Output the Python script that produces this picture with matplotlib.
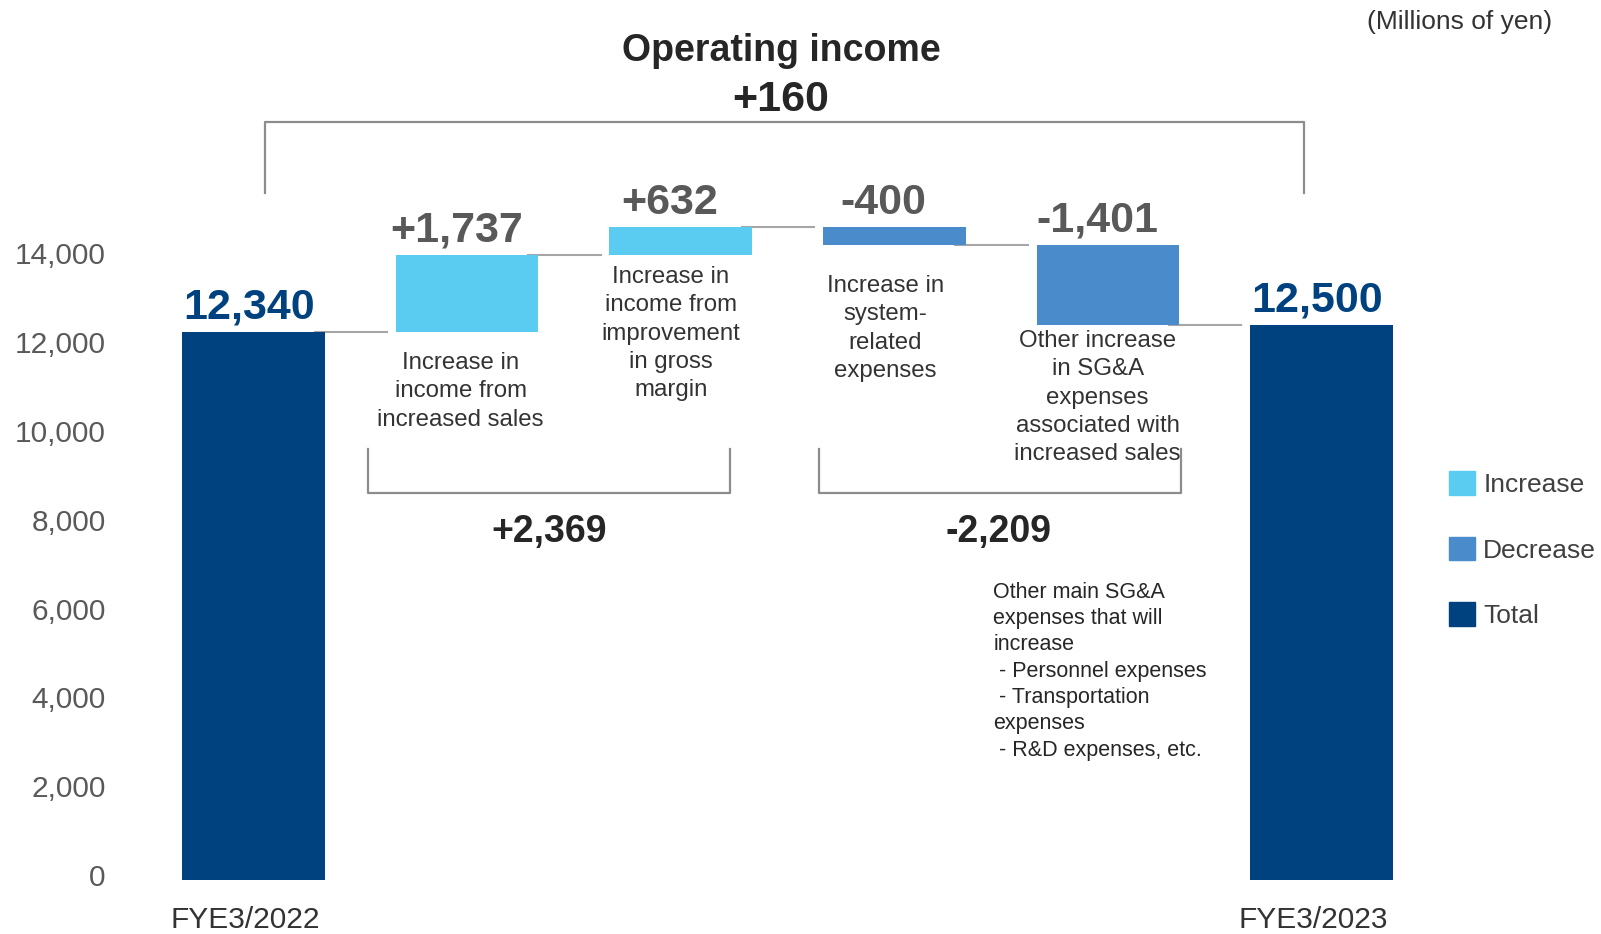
import matplotlib.pyplot as plt
from matplotlib.patches import Patch
from matplotlib.ticker import FuncFormatter
from matplotlib.transforms import ScaledTranslation

plt.rcParams['font.family'] = ['Liberation Sans', 'DejaVu Sans']

# data (millions of yen)
start_value = 12340
end_value = 12500
deltas = [1737, 632, -400, -1809]
delta_labels = ['+1,737', '+632', '-400', '-1,401']
total_labels = ['12,340', '12,500']
year_labels = ['FYE3/2022', 'FYE3/2023']
descriptions = [
    'Increase in\nincome from\nincreased sales',
    'Increase in\nincome from\nimprovement\nin gross\nmargin',
    'Increase in\nsystem-\nrelated\nexpenses',
    'Other increase\nin SG&A\nexpenses\nassociated with\nincreased sales',
]
group_labels = ['+2,369', '-2,209']
headline = 'Operating income'
headline_value = '+160'
note = ('Other main SG&A\nexpenses that will\nincrease\n - Personnel expenses\n'
        ' - Transportation\nexpenses\n - R&D expenses, etc.')
legend_labels = ['Increase', 'Decrease', 'Total']

c_inc = '#5BCCF1'
c_dec = '#4A8CCB'
c_tot = '#00427F'
c_line = '#A6A6A6'
c_brack = '#8C8C8C'

# build waterfall
bottoms = [0]
heights = [start_value]
colors = [c_tot]
levels = [start_value]
level = start_value
for d in deltas:
    if d >= 0:
        bottoms.append(level)
        heights.append(d)
        colors.append(c_inc)
    else:
        bottoms.append(level + d)
        heights.append(-d)
        colors.append(c_dec)
    level += d
    levels.append(level)
bottoms.append(0)
heights.append(end_value)
colors.append(c_tot)
xs = list(range(len(heights)))
tops = [b + h for b, h in zip(bottoms, heights)]

fig = plt.figure(figsize=(16.01, 9.34), dpi=100)
ax = fig.add_axes([0.07826, 0.05782, 0.8272, 0.9422])
ax.set_xlim(-0.6, 5.6)
ax.set_ylim(0, 19815)

ax.bar(xs, heights, bottom=bottoms, width=0.667, color=colors, zorder=2)

# connectors
for i, y in enumerate(levels):
    ax.plot([i + 0.286, i + 0.625], [y, y], color=c_line, lw=1.5, zorder=1)

# value labels
for i in xs:
    if i == 0 or i == len(xs) - 1:
        txt = total_labels[0 if i == 0 else 1]
        col = c_tot
        shift = -0.02
    else:
        txt = delta_labels[i - 1]
        col = '#595959'
        shift = -0.05
    ax.annotate(txt, (i + shift, tops[i]), xytext=(0, 9.5), textcoords='offset points',
                ha='center', va='baseline', fontsize=31, fontweight='bold', color=col)

# descriptions
desc_pos = [(0.97, 11000), (1.954, 12300), (2.957, 12420), (3.952, 10860)]
for (x, y), t in zip(desc_pos, descriptions):
    ax.text(x, y, t, ha='center', va='center', fontsize=17.3, color='#333333',
            linespacing=1.37)

# big bracket
ax.plot([0.056, 0.056, 4.918, 4.918], [15469, 17057, 17057, 15469],
        color=c_brack, lw=1.6, clip_on=False)
ax.text(2.47, 18670, headline, ha='center', va='center', fontsize=27,
        fontweight='bold', color='#262626')
ax.text(2.47, 17560, headline_value, ha='center', va='center', fontsize=31,
        fontweight='bold', color='#262626')

# lower brackets
for (x0, x1), lbl, lx in zip([(0.535, 2.231), (2.649, 4.342)], group_labels, [1.385, 3.488]):
    ax.plot([x0, x0, x1, x1], [9705, 8721, 8721, 9705], color=c_brack, lw=1.6)
    ax.text(lx, 7840, lbl, ha='center', va='center', fontsize=27,
            fontweight='bold', color='#262626')

ax.text(3.464, 4700, note, ha='left', va='center', fontsize=15.5, color='#262626',
        linespacing=1.33)

# axes styling
for s in ax.spines.values():
    s.set_visible(False)
ax.set_yticks(range(0, 14001, 2000))
ax.yaxis.set_major_formatter(FuncFormatter(lambda v, p: f'{int(v):,}'))
ax.tick_params(axis='y', length=0, pad=14, labelsize=21.5, labelcolor='#595959')
ax.set_xticks([0, len(xs) - 1])
ax.set_xticklabels(year_labels)
ax.tick_params(axis='x', length=0, pad=19, labelsize=21.5, labelcolor='#333333')
for lbl in ax.get_yticklabels():
    lbl.set_transform(lbl.get_transform() + ScaledTranslation(0, 0.05, fig.dpi_scale_trans))
for lbl in ax.get_xticklabels():
    lbl.set_transform(lbl.get_transform() + ScaledTranslation(-0.08, 0, fig.dpi_scale_trans))

fig.text(0.9694, 0.976, '(Millions of yen)', ha='right', va='center', fontsize=19,
         color='#333333')

handles = [Patch(color=c) for c in [c_inc, c_dec, c_tot]]
fig.legend(handles, legend_labels, loc='center left', bbox_to_anchor=(0.905, 0.4115),
           frameon=False, fontsize=19, handlelength=1.0, handleheight=1.0,
           handletextpad=0.3, labelspacing=1.5, borderpad=0, borderaxespad=0,
           labelcolor='#404040')

fig.savefig('out.png', dpi=100)
